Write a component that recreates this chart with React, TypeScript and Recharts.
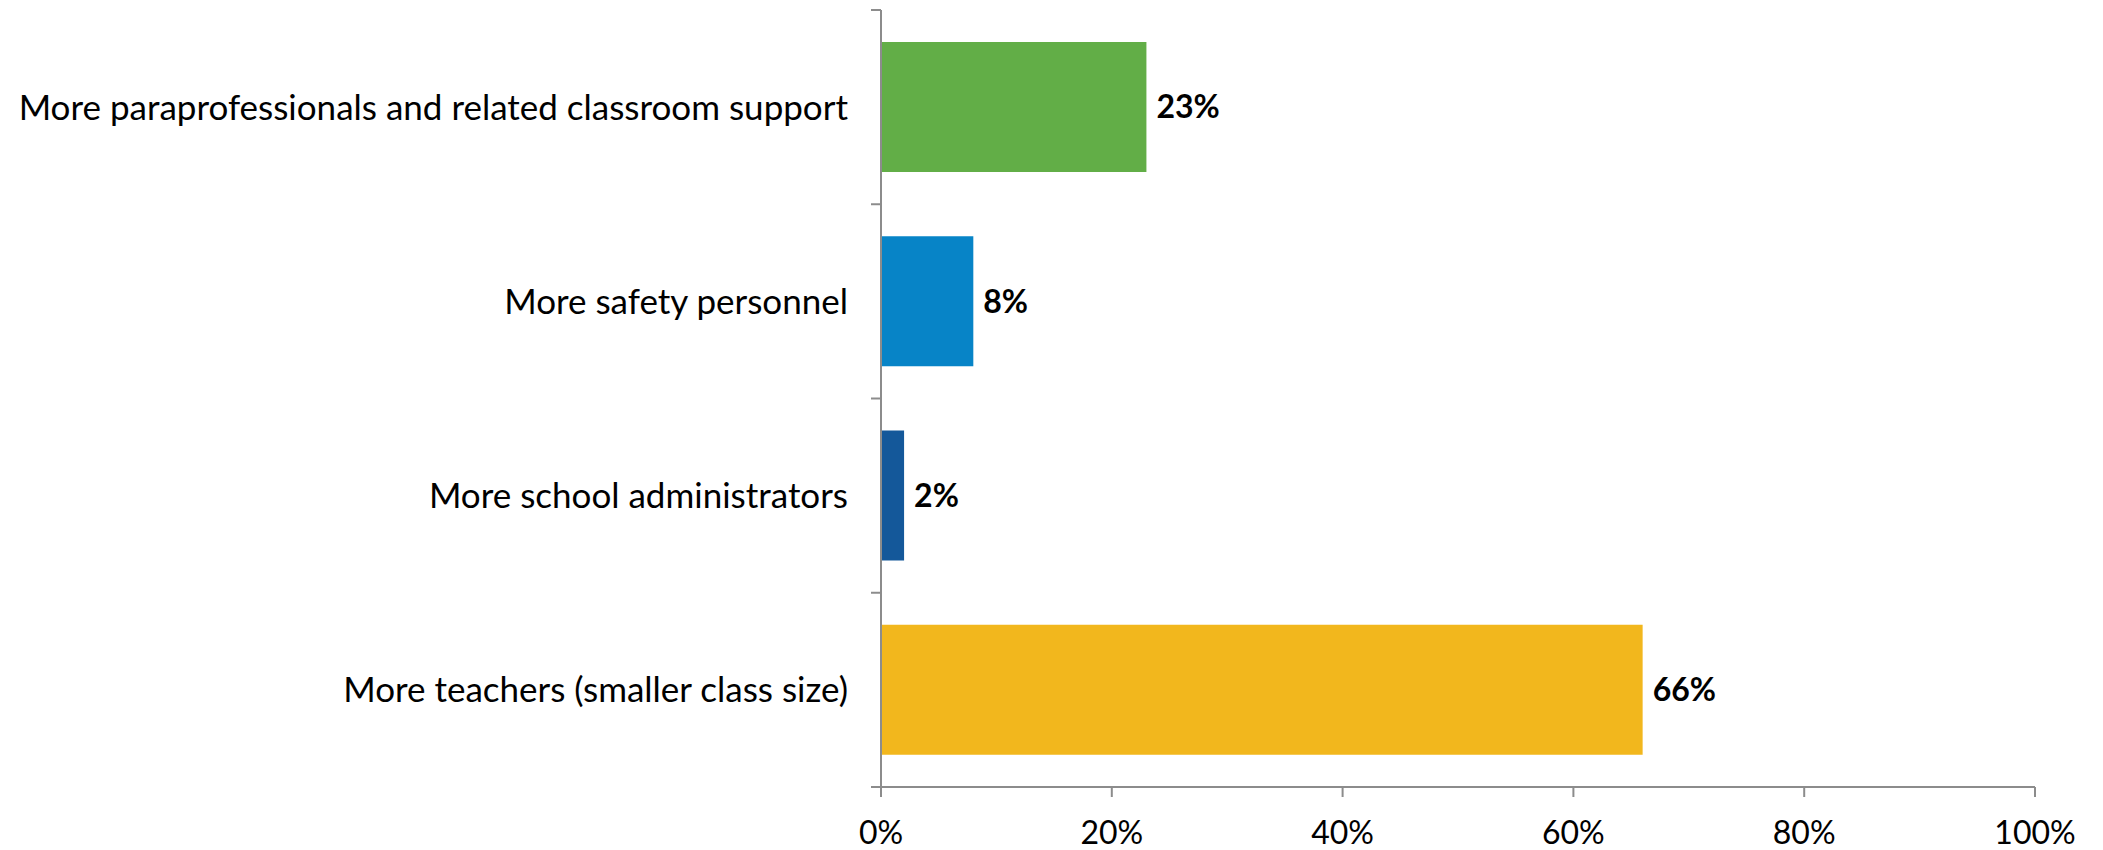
import * as React from "react";
import { BarChart, Bar, XAxis, YAxis, Cell, LabelList } from "recharts";

const categories = [
  "More paraprofessionals and related classroom support",
  "More safety personnel",
  "More school administrators",
  "More teachers (smaller class size)",
];
const shares = [23, 8, 2, 66];
const barColors = ["#62AE47", "#0784C7", "#14589A", "#F2B71D"];
const xTicks = [0, 20, 40, 60, 80, 100];

const data = categories.map((name, i) => ({ name, value: shares[i] }));

const AXIS = "#8c8c8c";
const FONT = "Lato, 'Open Sans', sans-serif";
const LABEL_GAP = 33;
const TICK_LEN = 10;

// category label plus Excel-style tick marks on the band edges
const CatTick = (props: any) => {
  const { x, y, payload, index, visibleTicksCount } = props;
  const half = payload.offset || 0;
  const ax = x + LABEL_GAP;
  const isLast = index === (visibleTicksCount ?? categories.length) - 1;
  return (
    <g>
      <line x1={ax - TICK_LEN} x2={ax} y1={y - half} y2={y - half} stroke={AXIS} strokeWidth={2} />
      {isLast && (
        <line x1={ax - TICK_LEN} x2={ax} y1={y + half} y2={y + half} stroke={AXIS} strokeWidth={2} />
      )}
      <text x={x} y={y} dy="0.355em" textAnchor="end" fill="#000" fontSize={35} fontFamily={FONT}>
        {payload.value}
      </text>
    </g>
  );
};

export default function App() {
  return (
    <div style={{ position: "absolute", left: 0, top: 0, background: "#fff" }}>
      <BarChart
        width={2103}
        height={850}
        data={data}
        layout="vertical"
        margin={{ top: 10, right: 68, left: 0, bottom: 0 }}
        barCategoryGap="16.5%"
        style={{ fontFamily: FONT }}
      >
        <YAxis
          type="category"
          dataKey="name"
          width={881}
          axisLine={{ stroke: AXIS, strokeWidth: 2 }}
          tickLine={false}
          tickSize={0}
          tickMargin={LABEL_GAP}
          tick={<CatTick />}
          interval={0}
        />
        <XAxis
          type="number"
          domain={[0, 100]}
          ticks={xTicks}
          tickFormatter={(v) => `${v}%`}
          height={63}
          stroke={AXIS}
          strokeWidth={2}
          tickSize={TICK_LEN}
          tickMargin={24}
          tick={{ fill: "#000", fontSize: 32, fontFamily: FONT }}
          interval={0}
        />
        <Bar dataKey="value" isAnimationActive={false}>
          {data.map((d, i) => (
            <Cell key={d.name} fill={barColors[i]} />
          ))}
          <LabelList
            dataKey="value"
            position="right"
            offset={10}
            formatter={(v: any) => `${v}%`}
            style={{ fill: "#000", fontSize: 32, fontWeight: 700, fontFamily: FONT }}
          />
        </Bar>
      </BarChart>
    </div>
  );
}
